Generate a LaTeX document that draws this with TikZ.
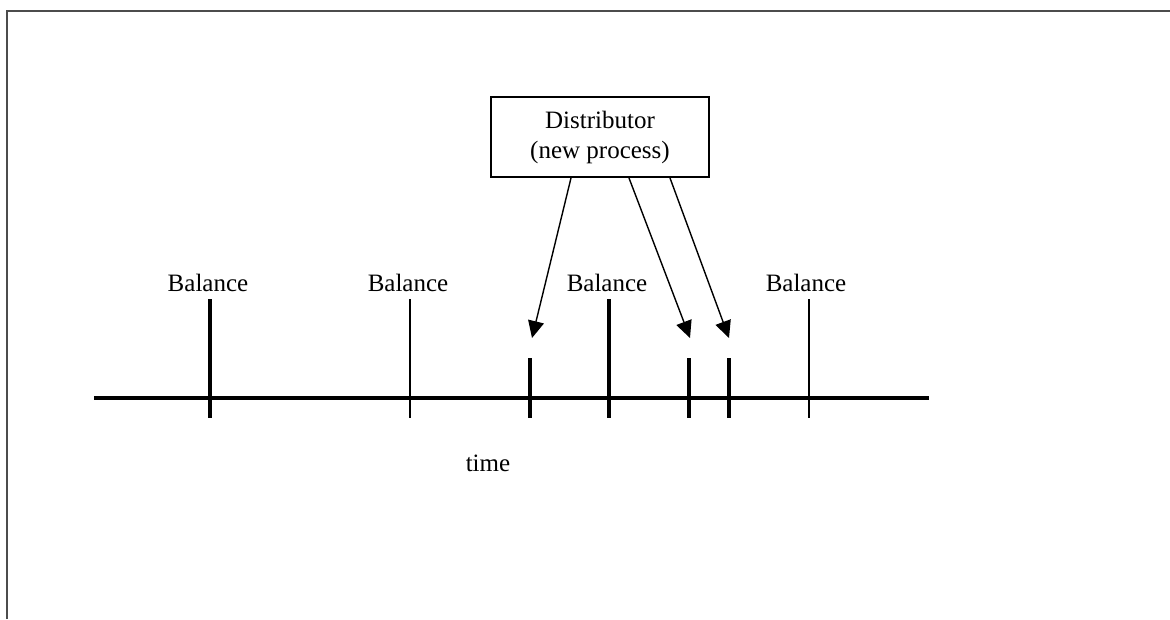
\documentclass[tikz,border=0pt]{standalone}
\usepackage{fontspec}
\setmainfont{Liberation Serif}
\usetikzlibrary{arrows.meta}
\begin{document}
\begin{tikzpicture}[x=1pt,y=-1pt,
  frameline/.style={draw=black!70, line width=2pt},
  axis/.style={line width=3.2pt},
  thicktick/.style={line width=3.2pt},
  thintick/.style={line width=1.6pt},
  label/.style={font=\fontsize{25}{30}\selectfont, inner sep=0pt, anchor=base},
  distbox/.style={draw, line width=1.8pt, minimum width=218pt, minimum height=80pt,
    align=center, font=\fontsize{25}{30}\selectfont, inner sep=0pt},
  feed/.style={line width=1.4pt, -{Triangle[length=17pt,width=16pt]}}
]
\useasboundingbox (0,0) rectangle (1170,619);
\fill[white] (0,0) rectangle (1170,619);

% outer frame (top and left edges)
\draw[frameline] (7,619) -- (7,11) -- (1170,11);

% time axis
\coordinate (tstart) at (94,398);
\coordinate (tend) at (929,398);
\draw[axis] (tstart) -- (tend);

% balance ticks
\coordinate (b1top) at (210,299); \coordinate (b1bot) at (210,418);
\coordinate (b2top) at (410,299); \coordinate (b2bot) at (410,418);
\coordinate (b3top) at (609,299); \coordinate (b3bot) at (609,418);
\coordinate (b4top) at (809,299); \coordinate (b4bot) at (809,418);
\draw[thicktick] (b1top) -- (b1bot);
\draw[thintick]  (b2top) -- (b2bot);
\draw[thicktick] (b3top) -- (b3bot);
\draw[thintick]  (b4top) -- (b4bot);

% new-process ticks
\coordinate (n1top) at (530,358); \coordinate (n1bot) at (530,418);
\coordinate (n2top) at (689,358); \coordinate (n2bot) at (689,418);
\coordinate (n3top) at (729,358); \coordinate (n3bot) at (729,418);
\draw[thicktick] (n1top) -- (n1bot);
\draw[thicktick] (n2top) -- (n2bot);
\draw[thicktick] (n3top) -- (n3bot);

% labels
\node[label] (bal1) at (208,291) {Balance};
\node[label] (bal2) at (408,291) {Balance};
\node[label] (bal3) at (607,291) {Balance};
\node[label] (bal4) at (806,291) {Balance};
\node[label] (time) at (488,471) {time};

% distributor
\node[distbox] (dist) at (600,137) {Distributor\\(new process)};

% arrows from distributor to the new ticks
\coordinate (a1s) at (571,178); \coordinate (a1e) at (532,338);
\coordinate (a2s) at (629,178); \coordinate (a2e) at (690,338);
\coordinate (a3s) at (670,178); \coordinate (a3e) at (729,338);
\draw[feed] (a1s) -- (a1e);
\draw[feed] (a2s) -- (a2e);
\draw[feed] (a3s) -- (a3e);
\end{tikzpicture}
\end{document}
